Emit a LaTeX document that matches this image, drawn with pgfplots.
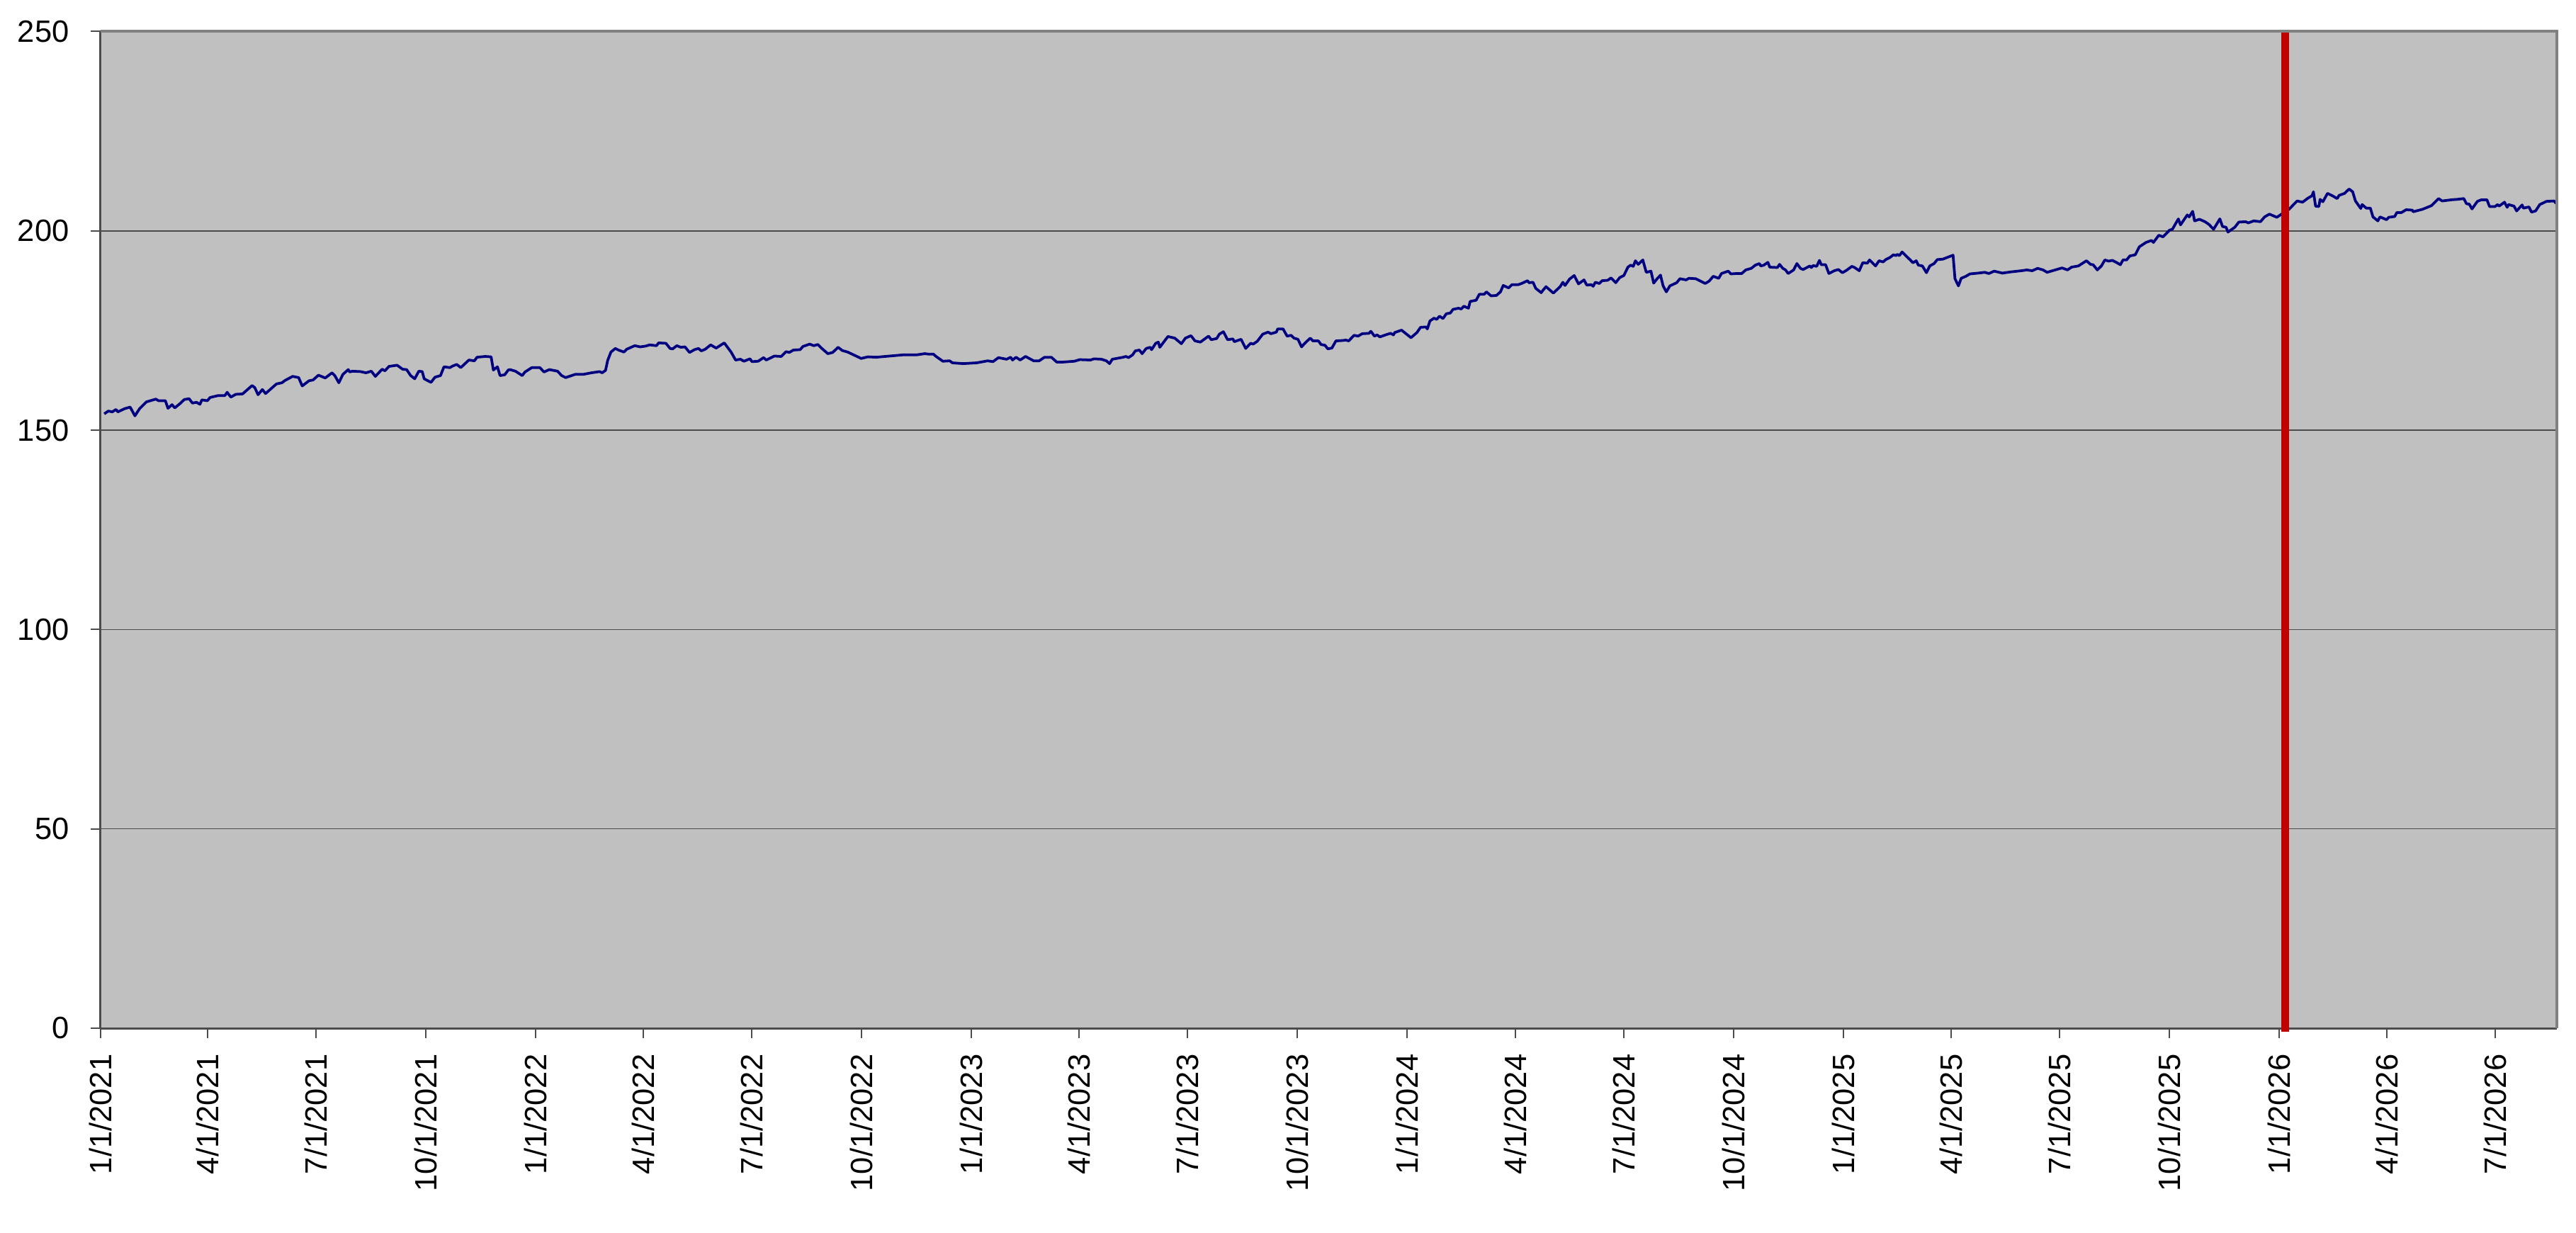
\documentclass[border=0pt]{standalone}
\usepackage{fontspec}
\setmainfont{Liberation Sans}
\usepackage{pgfplots}
\pgfplotsset{compat=1.18}
\definecolor{plotbg}{RGB}{192,192,192}
\definecolor{navyline}{RGB}{0,0,128}
\definecolor{redline}{RGB}{192,0,0}
\begin{document}
\begin{tikzpicture}
\begin{axis}[
  scale only axis, width=693.4pt, height=281.3pt,
  xmin=0, xmax=2058.5, ymin=0, ymax=250,
  axis x line*=bottom, axis y line*=left,
  axis line style={black!70, line width=0.6pt, -},
  every outer x axis line/.append style={-},
  every outer y axis line/.append style={-},
  axis background/.style={fill=plotbg},
  ytick={0,50,100,150,200,250},
  ymajorgrids, major grid style={black!70, line width=0.3pt},
  xtick={0,90,181,273,365,455,546,638,730,820,911,1003,1095,1186,1277,1369,1461,1551,1642,1734,1826,1916,2007},
  xticklabels={1/1/2021,4/1/2021,7/1/2021,10/1/2021,1/1/2022,4/1/2022,7/1/2022,10/1/2022,1/1/2023,4/1/2023,7/1/2023,10/1/2023,1/1/2024,4/1/2024,7/1/2024,10/1/2024,1/1/2025,4/1/2025,7/1/2025,10/1/2025,1/1/2026,4/1/2026,7/1/2026},
  tick align=outside, major tick length=2.8pt,
  tick style={black!70, line width=0.4pt},
  x tick label style={rotate=90, anchor=east},
  tick label style={font=\fontsize{8.7}{10}\selectfont},
  /pgf/number format/assume math mode=true,
  xticklabel shift=1pt, yticklabel shift=2.5pt,
  clip=false,
]
\addplot[navyline, line width=0.75pt, line join=round, mark=none] coordinates {
(3.3,154.1) (6.7,154.8) (10.1,154.6) (13.1,155.2) (14.7,154.6) (20.4,155.4) (25.0,155.8) (29.0,153.6) (32.9,155.4) (38.6,157.1) (46.5,157.8) (48.8,157.4) (54.5,157.4) (56.7,155.5) (60.1,156.4) (62.4,155.6) (66.9,156.7) (70.4,157.7) (74.4,157.9) (77.2,156.8) (80.6,157.0) (83.5,156.5) (85.1,157.6) (89.7,157.4) (92.0,158.2) (98.8,158.7) (104.4,158.7) (106.3,159.5) (109.4,158.3) (113.5,159.0) (119.2,159.1) (127.2,161.2) (129.4,160.7) (132.2,158.9) (135.8,160.2) (138.5,159.2) (147.6,161.6) (152.2,161.9) (154.9,162.5) (161.2,163.5) (166.2,163.2) (169.2,161.1) (174.9,162.4) (178.3,162.6) (182.8,163.8) (188.5,163.1) (194.2,164.4) (196.5,163.7) (199.9,161.9) (203.3,164.0) (207.8,165.2) (209.0,164.6) (211.2,164.8) (218.0,164.7) (222.6,164.4) (227.1,164.8) (230.5,163.5) (236.2,165.3) (238.5,164.9) (241.9,166.0) (248.7,166.3) (253.3,165.3) (256.7,165.2) (260.1,163.7) (263.5,162.9) (266.9,164.8) (269.8,164.7) (271.4,162.9) (277.1,162.0) (280.5,163.3) (285.1,163.7) (288.0,165.9) (293.0,165.7) (295.3,166.1) (298.7,166.5) (302.1,165.7) (308.9,167.6) (313.5,167.4) (315.7,168.3) (322.6,168.5) (327.5,168.4) (329.4,165.1) (332.8,165.9) (335.0,163.7) (338.9,163.9) (341.9,165.1)
(343.4,165.2) (347.9,164.8) (353.6,163.7) (355.9,164.6) (361.6,165.7) (368.4,165.7) (371.8,164.6) (376.3,165.2) (383.2,164.8) (386.6,163.7) (390.0,163.2) (397.9,164.0) (404.7,164.0) (411.6,164.4) (418.4,164.7) (420.6,164.4) (423.4,165.0) (425.2,167.5) (427.9,169.6) (431.6,170.5) (434.3,170.1) (438.8,169.6) (441.1,170.3) (447.9,171.2) (452.5,170.9) (457.0,171.1) (460.4,171.4) (466.1,171.2) (467.9,171.9) (474.0,171.8) (477.5,170.5) (479.7,170.4) (483.1,171.2) (486.5,170.8) (490.0,170.9) (493.8,169.5) (497.9,170.2) (501.3,170.5) (503.6,169.9) (506.9,170.3) (511.5,171.4) (516.1,170.6) (522.9,171.9) (528.6,169.6) (532.4,167.6) (536.5,167.8) (539.3,167.3) (544.5,167.9) (546.1,167.2) (551.3,167.3) (555.8,168.2) (558.1,167.6) (564.9,168.6) (570.6,168.5) (574.7,169.7) (577.4,169.5) (580.8,170.1) (586.5,170.2) (588.8,171.0) (594.5,171.6) (597.9,171.2) (601.3,171.5) (604.7,170.5) (609.7,169.2) (613.8,169.5) (618.3,170.8) (621.7,170.0) (626.3,169.6) (632.0,168.8) (637.6,168.0) (643.3,168.4) (650.1,168.3) (661.5,168.6) (672.8,168.9) (684.2,168.9) (691.0,169.2)
(693.6,169.1) (698.1,169.1) (700.4,168.5) (706.1,167.3) (711.8,167.4) (714.1,166.9) (723.1,166.7) (734.5,166.9) (743.6,167.4) (748.1,167.2) (752.7,168.2) (759.5,167.8) (762.9,168.3) (764.5,167.6) (767.4,168.3) (770.9,167.6) (775.4,168.5) (782.2,167.4) (786.8,167.4) (791.3,168.3) (797.0,168.3) (801.5,167.1) (807.2,167.1) (816.3,167.3) (820.8,167.7) (829.9,167.6) (832.7,167.9) (839.0,167.8) (843.1,167.4) (845.8,166.7) (848.1,167.8) (857.2,168.3) (859.5,168.5) (861.7,168.2) (865.1,168.9) (867.4,169.9) (870.8,170.1) (873.1,169.2) (876.5,170.5) (879.9,170.8) (881.0,170.2) (884.5,171.8) (886.7,172.1) (887.9,170.8) (894.7,173.5) (900.4,173.1) (906.0,171.7) (909.4,173.1) (914.0,173.7) (917.4,172.4) (921.9,172.1) (928.8,173.6) (931.0,172.7) (935.6,173.0) (937.8,174.1) (941.2,174.7) (944.7,172.7) (949.2,172.9) (950.3,172.2) (956.0,172.8) (959.9,170.5) (964.0,171.8) (966.2,171.6) (969.6,172.3) (974.2,174.1) (978.7,174.6) (981.0,174.2) (985.6,174.6) (986.7,175.4) (991.2,175.4) (994.6,173.6) (998.0,173.8) (1000.3,173.1) (1003.7,172.8) (1006.7,170.9) (1009.4,171.8) (1014.0,173.1) (1016.2,172.4) (1020.8,172.4) (1023.0,171.5) (1026.4,171.3) (1028.7,170.4) (1032.1,170.6) (1035.5,172.4) (1041.2,172.5)
(1043.9,172.6) (1046.2,172.4) (1050.7,173.8) (1054.1,173.6) (1057.5,174.2) (1063.2,174.3) (1064.8,174.8) (1067.8,173.6) (1070.0,173.9) (1072.3,173.4) (1078.0,174.0) (1081.4,174.3) (1083.7,173.9) (1084.8,174.5) (1090.5,175.1) (1098.4,173.2) (1103.4,174.5) (1106.4,175.8) (1110.9,175.9) (1112.1,175.4) (1114.3,177.4) (1117.7,178.1) (1120.0,177.8) (1122.3,178.6) (1125.2,178.0) (1128.0,179.2) (1131.4,179.4) (1133.6,180.3) (1138.2,180.6) (1140.5,180.4) (1142.7,181.1) (1146.6,180.6) (1148.0,182.3) (1153.0,182.6) (1155.7,184.1) (1159.8,184.1) (1161.6,184.7) (1165.5,183.7) (1170.0,183.8) (1173.4,184.7) (1175.7,186.3) (1180.2,185.7) (1183.0,186.5) (1188.2,186.5) (1191.1,186.8) (1196.1,187.5) (1197.3,187.0) (1200.7,187.1) (1202.9,185.6) (1207.5,184.5) (1209.3,185.2) (1211.6,186.0) (1217.7,184.4) (1223.4,186.0) (1225.7,187.1) (1227.5,186.3) (1231.3,187.9) (1235.2,188.8) (1238.8,186.7) (1243.4,187.7) (1245.7,186.4) (1249.5,186.5) (1251.1,186.1) (1252.9,187.1) (1256.3,186.8) (1258.6,187.5) (1263.2,187.6) (1266.1,188.2) (1270.0,187.0) (1273.4,188.3) (1276.8,188.8) (1280.2,190.9) (1282.5,191.4) (1284.7,191.1) (1286.5,192.5) (1288.8,191.6) (1292.7,192.7) (1295.6,189.6) (1299.5,189.9) (1301.8,186.9) (1304.7,188.0) (1307.5,188.9) (1309.7,186.2) (1312.4,184.7) (1315.4,186.2) (1321.1,187.0) (1323.8,188.0) (1329.0,187.7) (1331.3,188.1) (1337.0,188.0) (1345.0,186.8) (1348.3,187.4) (1351.7,188.6) (1356.3,188.1) (1358.6,189.3) (1364.3,189.9) (1366.5,189.2) (1371.1,189.3) (1375.6,189.3) (1379.0,190.2) (1383.6,190.6) (1387.0,191.4) (1390.4,191.8) (1391.5,191.2)
(1394.1,191.4) (1397.5,192.1) (1399.1,190.9) (1405.5,190.8) (1407.3,191.6) (1410.0,190.6) (1412.3,190.2) (1414.5,189.3) (1419.1,190.2) (1421.8,191.8) (1424.8,190.6) (1427.0,190.3) (1432.7,191.2) (1433.9,190.8) (1435.5,191.3) (1438.4,191.1) (1440.7,192.6) (1442.3,191.5) (1445.9,191.5) (1448.6,189.3) (1453.2,190.0) (1456.6,190.3) (1460.0,189.5) (1463.4,190.1) (1467.9,191.1) (1470.2,190.8) (1474.1,190.0) (1477.0,192.0) (1480.9,191.9) (1482.7,192.7) (1487.7,191.2) (1490.7,192.5) (1494.1,192.2) (1496.3,192.8) (1499.7,193.3) (1502.7,194.0) (1504.9,193.8) (1505.9,194.1) (1507.7,193.8) (1510.0,194.7) (1512.7,193.9) (1516.8,192.7) (1519.1,192.0) (1521.8,192.5) (1523.6,191.4) (1527.0,191.2) (1530.4,189.5) (1533.2,191.2) (1536.8,191.8) (1539.5,192.8) (1544.1,192.9) (1547.5,193.3) (1552.7,193.9) (1554.3,188.0) (1557.2,186.2) (1559.5,188.1) (1563.4,188.6) (1566.8,189.2) (1573.6,189.4) (1579.3,189.6) (1582.7,189.3) (1587.2,189.9) (1594.0,189.4) (1600.9,189.7) (1610.0,190.0) (1614.5,190.2) (1619.0,190.0) (1623.6,190.6) (1628.1,190.2) (1631.5,189.6) (1638.3,190.2) (1644.0,190.7) (1648.6,190.2) (1652.0,190.9) (1657.7,191.2) (1664.5,192.5) (1667.9,191.6) (1670.1,191.5) (1673.6,190.2) (1677.0,191.2) (1679.9,192.7) (1683.1,192.4) (1686.1,192.6) (1689.5,192.1) (1692.9,191.5) (1695.1,192.7) (1698.1,192.7) (1700.8,193.7) (1705.4,194.0) (1708.8,196.0) (1714.4,197.1) (1719.0,197.6)
(1720.6,197.1) (1725.1,198.9) (1728.6,198.5) (1734.2,200.2) (1736.5,200.4) (1741.5,203.0) (1743.3,201.5) (1749.0,204.0) (1750.6,203.5) (1753.5,204.9) (1755.1,202.5) (1759.2,202.9) (1763.8,202.3) (1767.2,201.6) (1771.0,200.4) (1776.3,203.0) (1778.5,201.1) (1781.5,200.9) (1783.1,199.7) (1788.8,200.9) (1792.2,202.2) (1797.9,202.3) (1800.1,202.0) (1804.7,202.5) (1810.3,202.3) (1813.8,203.5) (1817.8,204.2) (1824.0,203.4) (1828.5,204.3) (1834.2,205.4) (1841.0,207.5) (1845.6,207.2) (1850.1,208.2) (1853.5,208.8) (1854.7,209.8) (1856.5,206.2) (1859.2,206.1) (1860.3,207.9) (1862.6,207.3) (1866.5,209.4) (1870.6,208.8) (1874.6,208.1) (1876.2,208.9) (1880.8,209.4) (1884.6,210.5) (1887.6,209.8) (1889.9,207.5) (1894.4,205.6) (1895.5,206.6) (1899.0,205.7) (1902.4,205.7) (1904.6,203.5) (1908.7,202.5) (1910.5,203.5) (1916.0,202.8) (1917.8,203.4) (1922.8,203.6) (1924.6,204.6) (1928.5,204.6) (1932.4,205.3) (1937.6,205.2) (1938.3,204.8) (1946.0,205.4) (1953.5,206.3) (1959.6,208.1) (1962.6,207.5) (1970.5,207.8) (1975.1,207.9) (1980.7,208.1) (1983.0,206.8) (1985.3,206.7) (1987.6,205.5) (1992.1,207.4) (1995.5,207.8) (2000.1,207.8) (2002.3,206.1) (2006.9,206.1) (2009.1,206.6) (2010.3,206.2) (2014.8,207.2) (2017.1,205.9) (2018.2,206.6) (2022.8,206.2) (2025.0,205.0) (2029.6,206.5) (2030.7,205.7) (2035.3,206.0) (2037.5,204.7) (2040.9,205.0) (2044.4,206.6) (2050.0,207.4) (2056.4,207.5) (2058.0,206.9)
};
\addplot[redline, line width=2.3pt, line cap=butt, mark=none] coordinates {(1831,-0.85) (1831,250)};
\draw[black!50, line width=0.8pt] (rel axis cs:0,1) -- (rel axis cs:1,1) -- (rel axis cs:1,0);
\end{axis}
\pgfresetboundingbox
\path[use as bounding box] (current axis.south west) ++(-28.32pt,-57.6pt) rectangle ++(727.2pt,347.8pt);
\end{tikzpicture}
\end{document}
